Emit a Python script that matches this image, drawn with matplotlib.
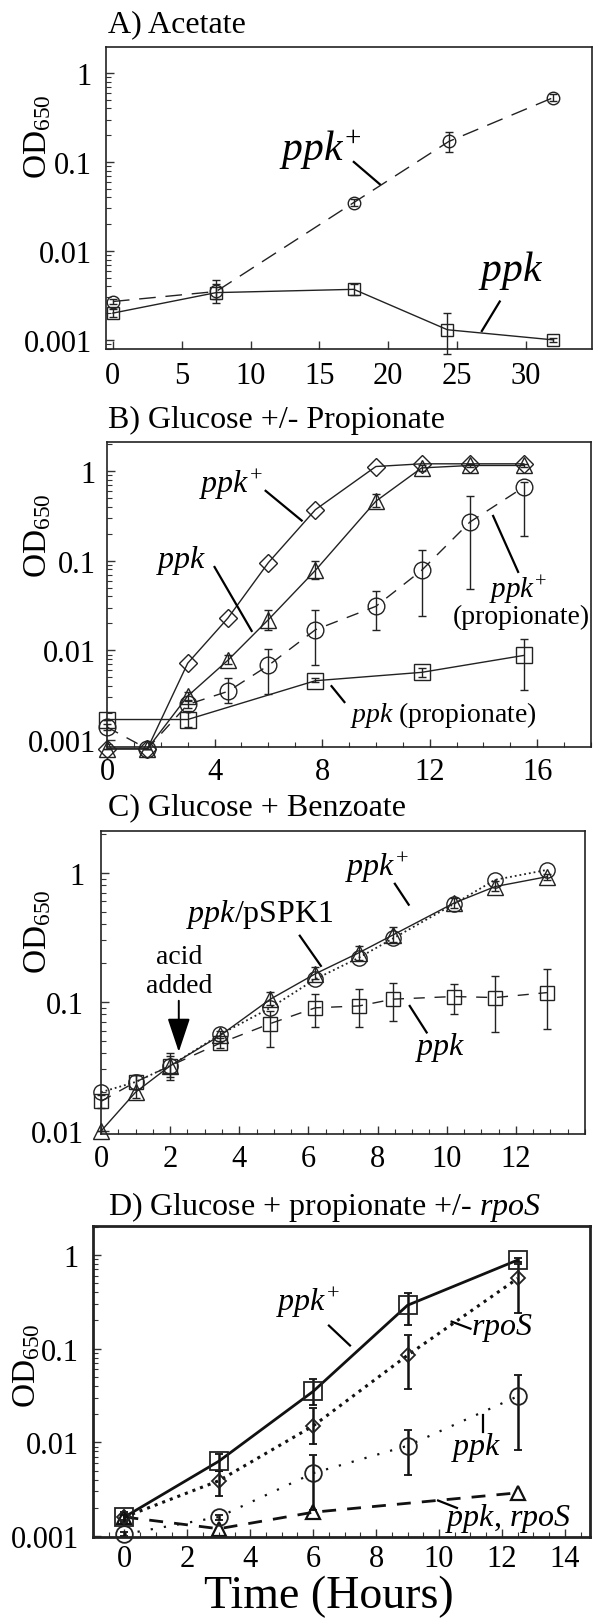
import matplotlib
matplotlib.use("Agg")
import matplotlib.pyplot as plt
from matplotlib.ticker import FixedLocator, FixedFormatter, MultipleLocator, LogLocator, NullFormatter
import numpy as np

plt.rcParams['font.family'] = ['Liberation Serif', 'DejaVu Serif']
plt.rcParams['mathtext.fontset'] = 'custom'
plt.rcParams['mathtext.rm'] = 'Liberation Serif'
plt.rcParams['mathtext.it'] = 'Liberation Serif:italic'

# ---------------- data ----------------
ytick_vals = [0.001, 0.01, 0.1, 1]
ytick_labels = ['0.001', '0.01', '0.1', '1']

# Panel A: Acetate
a_x_plus = [0, 7.5, 17.5, 24.4, 32]
a_y_plus = [0.0027, 0.0035, 0.035, 0.17, 0.53]
a_lo_plus = [0.0025, 0.0029, 0.032, 0.13, 0.49]
a_hi_plus = [0.0029, 0.0043, 0.038, 0.22, 0.58]
a_x_ppk = [0, 7.5, 17.5, 24.3, 32]
a_y_ppk = [0.0020, 0.0034, 0.0037, 0.0013, 0.0010]
a_lo_ppk = [0.0018, 0.0026, 0.0032, 0.0007, 0.00095]
a_hi_ppk = [0.0022, 0.0047, 0.0043, 0.0020, 0.00105]
a_xticks = [0, 5, 10, 15, 20, 25, 30]

# Panel B: Glucose +/- Propionate
b_x = [0, 1.5, 3, 4.5, 6, 7.75, 10, 11.7, 13.5, 15.5]
b_y_plus = [0.0008, 0.0008, 0.0072, 0.023, 0.095, 0.37, 1.12, 1.2, 1.2, 1.2]
b_y_ppk = [0.0008, 0.0008, 0.0031, 0.0078, 0.022, 0.078, 0.46, 1.08, 1.15, 1.15]
b_lo_ppk = [0.0008, 0.0008, 0.0028, 0.0070, 0.017, 0.063, 0.40, 1.0, 1.1, 1.1]
b_hi_ppk = [0.0008, 0.0008, 0.0034, 0.0088, 0.028, 0.10, 0.55, 1.15, 1.2, 1.2]
b_y_plus_prop = [0.0014, 0.0008, 0.0025, 0.0035, 0.0068, 0.017, 0.031, 0.078, 0.27, 0.66]
b_lo_plus_prop = [0.0013, 0.0008, 0.0023, 0.0026, 0.0033, 0.0068, 0.017, 0.024, 0.048, 0.19]
b_hi_plus_prop = [0.0015, 0.0008, 0.0027, 0.0049, 0.0105, 0.028, 0.046, 0.13, 0.52, 0.75]
b_x_ppk_prop = [0, 3, 7.75, 11.7, 15.5]
b_y_ppk_prop = [0.0017, 0.0017, 0.0046, 0.0057, 0.0088]
b_lo_ppk_prop = [0.0017, 0.0014, 0.0044, 0.0051, 0.0036]
b_hi_ppk_prop = [0.0017, 0.0021, 0.0049, 0.0063, 0.0135]
b_xticks = [0, 4, 8, 12, 16]

# Panel C: Glucose + Benzoate
c_x = [0, 1, 2, 3.45, 4.9, 6.2, 7.46, 8.45, 10.2, 11.4, 12.9]
c_y_plus = [0.020, 0.024, 0.032, 0.056, 0.090, 0.15, 0.22, 0.31, 0.57, 0.88, 1.05]
c_y_pspk = [0.010, 0.020, 0.032, 0.055, 0.105, 0.165, 0.24, 0.33, 0.58, 0.78, 0.93]
c_lo_pspk = [0.010, 0.018, 0.026, 0.050, 0.095, 0.150, 0.21, 0.29, 0.53, 0.72, 0.88]
c_hi_pspk = [0.010, 0.027, 0.040, 0.060, 0.120, 0.185, 0.27, 0.38, 0.64, 0.86, 0.98]
c_y_ppk = [0.017, 0.024, 0.032, 0.048, 0.068, 0.090, 0.093, 0.105, 0.110, 0.108, 0.118]
c_lo_ppk = [0.015, 0.021, 0.025, 0.044, 0.045, 0.064, 0.064, 0.071, 0.080, 0.058, 0.062]
c_hi_ppk = [0.019, 0.027, 0.038, 0.053, 0.085, 0.115, 0.125, 0.140, 0.138, 0.158, 0.180]
c_xticks = [0, 2, 4, 6, 8, 10, 12]

# Panel D: Glucose + propionate +/- rpoS
d_x = [0, 3, 6, 9, 12.5]
d_y_plus = [0.0016, 0.0063, 0.035, 0.29, 0.88]
d_lo_plus = [0.0014, 0.0049, 0.025, 0.18, 0.83]
d_hi_plus = [0.0018, 0.0076, 0.048, 0.39, 0.93]
d_y_rpos = [0.0016, 0.0039, 0.015, 0.085, 0.56]
d_lo_rpos = [0.0015, 0.0027, 0.0095, 0.037, 0.24]
d_hi_rpos = [0.0017, 0.0050, 0.023, 0.14, 0.80]
d_y_ppk = [0.00105, 0.0016, 0.0047, 0.0092, 0.031]
d_lo_ppk = [0.0010, 0.0015, 0.0019, 0.0045, 0.0082]
d_hi_ppk = [0.0011, 0.0017, 0.0073, 0.0134, 0.052]
d_x_dbl = [0, 3, 6, 12.5]
d_y_dbl = [0.0016, 0.0012, 0.0018, 0.0029]
d_xticks = [0, 2, 4, 6, 8, 10, 12, 14]

# ---------------- figure ----------------
W, H = 593, 1624
fig = plt.figure(figsize=(W / 100, H / 100), dpi=100)

def make_ax(l, r, t, b):
    return fig.add_axes([l / W, 1 - b / H, (r - l) / W, (b - t) / H])

def yerr(y, lo, hi):
    y = np.array(y); return [y - np.array(lo), np.array(hi) - y]

def unclip(container):
    for art in container.get_children() if hasattr(container, 'get_children') else container:
        try:
            art.set_clip_on(False)
        except Exception:
            pass

TICKFS = 22
def style(ax, xlim, ylim, xticks, xminor, spine_lw, xpad, ypad):
    ax.set_yscale('log')
    ax.set_xlim(*xlim)
    ax.set_ylim(*ylim)
    ax.yaxis.set_major_locator(FixedLocator(ytick_vals))
    ax.yaxis.set_major_formatter(FixedFormatter(ytick_labels))
    ax.yaxis.set_minor_locator(LogLocator(base=10, subs=np.arange(2, 10)))
    ax.yaxis.set_minor_formatter(NullFormatter())
    ax.xaxis.set_major_locator(FixedLocator(xticks))
    ax.xaxis.set_major_formatter(FixedFormatter([str(v) for v in xticks]))
    if xminor:
        ax.xaxis.set_minor_locator(MultipleLocator(xminor))
    ax.tick_params(which='both', direction='in', labelsize=TICKFS, color='#333333')
    ax.tick_params(which='major', length=6, width=1)
    ax.tick_params(which='minor', length=3.5, width=0.8)
    ax.tick_params(axis='x', pad=xpad)
    ax.tick_params(axis='y', pad=ypad)
    for s in ax.spines.values():
        s.set_linewidth(spine_lw)
        s.set_color('#222222')

def leader(ax, x0, y0, x1, y1, lw=1.6):
    ax.plot([x0, x1], [y0, y1], color='k', lw=lw, clip_on=False)

def eb(ax, x, y, lo, hi, **kw):
    c = ax.errorbar(x, y, yerr=yerr(y, lo, hi), **kw)
    unclip(c)
    return c

ebkw = dict(ecolor='#222222', elinewidth=1.0, capsize=3, capthick=1.0)
mk = dict(mfc='none', mec='#222222', mew=1.0, color='#222222')
dkw = dict(mfc='none', mec='#222222', mew=1.3, color='#111111',
           ecolor='#111111', elinewidth=1.8, capsize=3, capthick=1.8)

# ---------- Panel A ----------
axA = make_ax(106, 592, 48, 350)
eb(axA, a_x_plus, a_y_plus, a_lo_plus, a_hi_plus, fmt='o', ms=9,
   ls=(0, (12, 7)), lw=1.0, **mk, **ebkw)
eb(axA, a_x_ppk, a_y_ppk, a_lo_ppk, a_hi_ppk, fmt='s', ms=9, ls='-', lw=1.0, **mk, **ebkw)
style(axA, (-0.5, 34.8), (0.00079, 1.96), a_xticks, None, 1.2, 9, 10)
axA.text(15.1, 0.14, r'$\mathit{ppk}^{+}$', fontsize=30, ha='center', va='center')
leader(axA, 17.5, 0.10, 19.4, 0.056)
axA.text(28.9, 0.0062, r'$\mathit{ppk}$', fontsize=30, ha='center', va='center')
leader(axA, 28.1, 0.0027, 26.8, 0.00126)
fig.text(108 / W, 1 - 25 / H, 'A) Acetate', fontsize=23, ha='left', va='center')

# ---------- Panel B ----------
axB = make_ax(107, 591, 443, 748)
axB.plot(b_x, b_y_plus, marker='D', ms=9, ls='-', lw=1.0, clip_on=False, **mk)
eb(axB, b_x, b_y_ppk, b_lo_ppk, b_hi_ppk, fmt='^', ms=12, ls='-', lw=1.0, **mk, **ebkw)
eb(axB, b_x, b_y_plus_prop, b_lo_plus_prop, b_hi_plus_prop,
   fmt='o', ms=12, ls=(0, (9, 7)), lw=1.0, **mk, **ebkw)
eb(axB, b_x_ppk_prop, b_y_ppk_prop, b_lo_ppk_prop, b_hi_ppk_prop,
   fmt='s', ms=11, ls='-', lw=1.0, **mk, **ebkw)
style(axB, (0, 18), (0.00084, 2.1), b_xticks, 1, 1.2, 7, 8)
axB.text(4.6, 0.72, r'$\mathit{ppk}^{+}$', fontsize=23, ha='center', va='center')
leader(axB, 5.9, 0.60, 7.24, 0.28)
axB.text(2.75, 0.104, r'$\mathit{ppk}$', fontsize=23, ha='center', va='center')
leader(axB, 4.0, 0.085, 5.38, 0.0165)
axB.text(15.3, 0.048, r'$\mathit{ppk}^{+}$', fontsize=21, ha='center', va='center')
axB.text(15.4, 0.024, '(propionate)', fontsize=20, ha='center', va='center')
leader(axB, 14.36, 0.315, 15.29, 0.075)
axB.text(12.5, 0.00195, r'$\mathit{ppk}$ (propionate)', fontsize=20, ha='center', va='center')
leader(axB, 8.35, 0.0040, 8.83, 0.00266)
fig.text(108 / W, 1 - 420 / H, 'B) Glucose +/- Propionate', fontsize=23, ha='left', va='center')

# ---------- Panel C ----------
axC = make_ax(101, 585, 832, 1135)
eb(axC, c_x, c_y_pspk, c_lo_pspk, c_hi_pspk, fmt='^', ms=11, ls='-', lw=1.0, **mk, **ebkw)
axC.plot(c_x, c_y_plus, marker='o', ms=11, ls=':', lw=1.3, clip_on=False, **mk)
eb(axC, c_x, c_y_ppk, c_lo_ppk, c_hi_ppk, fmt='s', ms=10, ls=(0, (8, 7)), lw=1.0, **mk, **ebkw)
style(axC, (0, 14), (0.0095, 2.1), c_xticks, 0.5, 1.2, 7, 12)
axC.text(7.98, 1.11, r'$\mathit{ppk}^{+}$', fontsize=23, ha='center', va='center')
leader(axC, 8.5, 0.82, 8.9, 0.565)
axC.text(4.6, 0.48, r'$\mathit{ppk}$/pSPK1', fontsize=23, ha='center', va='center')
leader(axC, 5.75, 0.325, 6.36, 0.19)
axC.text(2.25, 0.223, 'acid', fontsize=20, ha='center', va='center')
axC.text(2.25, 0.133, 'added', fontsize=20, ha='center', va='center')
axC.annotate('', xy=(2.25, 0.041), xytext=(2.25, 0.102),
             arrowprops=dict(arrowstyle='-|>,head_length=0.6,head_width=0.2', color='k',
                             lw=1.4, mutation_scale=35, shrinkA=0, shrinkB=0))
axC.text(9.8, 0.045, r'$\mathit{ppk}$', fontsize=23, ha='center', va='center')
leader(axC, 8.93, 0.093, 9.42, 0.058)
fig.text(108 / W, 1 - 808 / H, 'C) Glucose + Benzoate', fontsize=23, ha='left', va='center')

# ---------- Panel D ----------
axD = make_ax(93, 590, 1227, 1538)
eb(axD, d_x, d_y_plus, d_lo_plus, d_hi_plus, fmt='s', ms=13, ls='-', lw=2.0, **dkw)
eb(axD, d_x, d_y_rpos, d_lo_rpos, d_hi_rpos, fmt='D', ms=7, ls=':', lw=2.2, **dkw)
eb(axD, d_x, d_y_ppk, d_lo_ppk, d_hi_ppk, fmt='o', ms=12, ls=(0, (1, 5)), lw=1.6, **dkw)
axD.plot(d_x_dbl, d_y_dbl, marker='^', ms=10, ls=(0, (5, 4)), lw=2.0, clip_on=False,
         mfc='none', mec='#111111', mew=1.6, color='#111111')
style(axD, (-1, 14.8), (0.00098, 2.03), d_xticks, 0.5, 2.0, 5, 10)
axD.text(5.84, 0.316, r'$\mathit{ppk}^{+}$', fontsize=23, ha='center', va='center')
leader(axD, 6.5, 0.176, 7.17, 0.108)
axD.text(12.0, 0.171, r'$\mathit{rpoS}$', fontsize=23, ha='center', va='center')
leader(axD, 10.4, 0.194, 11.0, 0.163)
axD.text(11.2, 0.0091, r'$\mathit{ppk}$', fontsize=23, ha='center', va='center')
leader(axD, 11.4, 0.0194, 11.4, 0.013)
axD.text(12.2, 0.0016, r'$\mathit{ppk}$, $\mathit{rpoS}$', fontsize=23, ha='center', va='center')
leader(axD, 9.97, 0.0024, 10.57, 0.0020)
fig.text(108 / W, 1 - 1207 / H, r'D) Glucose + propionate +/- $\mathit{rpoS}$', fontsize=23,
         ha='left', va='center')
fig.text(329 / W, 1 - 1597 / H, 'Time (Hours)', fontsize=33, ha='center', va='center')

# y-axis labels
for (xc, yc) in [(38, 137), (38, 536), (38, 932), (27, 1366)]:
    fig.text(xc / W, 1 - yc / H, r'OD$_{650}$', fontsize=24, rotation=90, ha='center', va='center')

fig.savefig('out.png', dpi=100)
